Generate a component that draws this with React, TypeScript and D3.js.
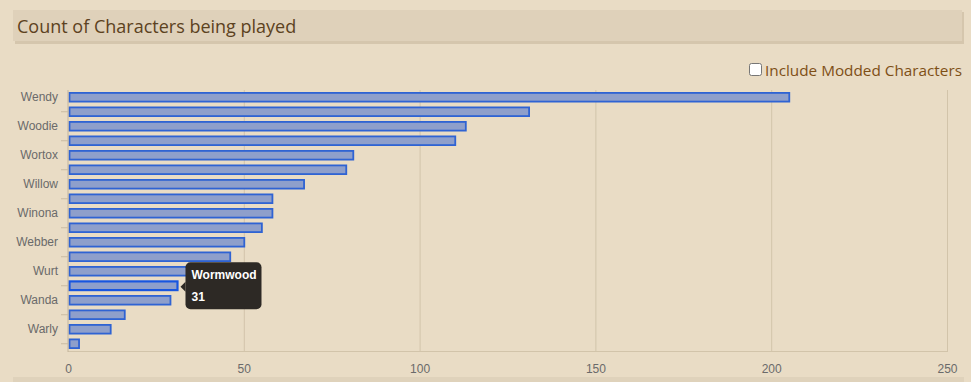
import React from "react";
import * as d3 from "d3";

const characters = [
  "Wendy", "Wilson", "Woodie", "Wickerbottom", "Wortox", "Wigfrid",
  "Willow", "Maxwell", "Winona", "WX-78", "Webber", "Wolfgang",
  "Wurt", "Wormwood", "Wanda", "Walter", "Warly", "Wes",
];
const counts = [205, 131, 113, 110, 81, 79, 67, 58, 58, 55, 50, 46, 36, 31, 29, 16, 12, 3];
const xTicks = [0, 50, 100, 150, 200, 250];
const title = "Count of Characters being played";
const checkboxLabel = "Include Modded Characters";
const highlighted = "Wormwood";

const W = 971;
const H = 382;
const BG = "#e9dcc5";

export default function App() {
  const x = d3.scaleLinear().domain([0, 250]).range([68.5, 947.5]);
  const y = d3.scaleBand<string>().domain(characters).range([90, 351]).paddingInner(0).paddingOuter(0);
  const bh = y.bandwidth() * 0.6;
  const axisFont = "'Liberation Sans', Arial, sans-serif";
  const hi = characters.indexOf(highlighted);
  const hiY = (y(highlighted) ?? 0) + y.bandwidth() / 2;
  const hiX = x(counts[hi]);

  return (
    <svg
      width={W}
      height={H}
      style={{ position: "absolute", left: 0, top: 0, display: "block" }}
    >
      <rect x={0} y={0} width={W} height={H} fill={BG} />
      {/* header */}
      <rect x={15} y={12} width={949} height={32} fill="#d5c6ad" />
      <rect x={13} y={10} width={949} height={31} fill="#dfd1ba" />
      <text x={17} y={33} fontFamily="'Open Sans', sans-serif" fontSize={18} fill="#5c4221">
        {title}
      </text>
      {/* checkbox */}
      <rect x={749.5} y={63.5} width={12} height={12} rx={2} fill="#ffffff" stroke="#767676" strokeWidth={1} />
      <text x={765} y={76} fontFamily="'Open Sans', sans-serif" fontSize={15.3} fill="#7e4f16">
        {checkboxLabel}
      </text>
      {/* gridlines */}
      {xTicks.slice(1).map((t) => (
        <line key={t} x1={x(t)} x2={x(t)} y1={90} y2={351} stroke="#d2c4aa" strokeWidth={1} />
      ))}
      {/* x axis baseline */}
      <line x1={68} x2={948} y1={351.5} y2={351.5} stroke="#d2c4aa" strokeWidth={1} />
      {/* bars */}
      {characters.map((c, i) => {
        const yc = (y(c) ?? 0) + y.bandwidth() / 2;
        const isHi = c === highlighted;
        return (
          <rect
            key={c}
            x={x(0) + 1}
            y={yc - bh / 2}
            width={Math.max(0, x(counts[i]) - x(0) - 1)}
            height={bh}
            fill="#8e9fcb"
            stroke={isHi ? "#1856e0" : "#2f63d3"}
            strokeWidth={isHi ? 2.2 : 1.8}
          />
        );
      })}
      {/* y axis line */}
      <line x1={68} x2={68} y1={90} y2={352} stroke="#c4b59b" strokeWidth={1} />
      {/* y labels & minor ticks */}
      {characters.map((c, i) => {
        const yc = (y(c) ?? 0) + y.bandwidth() / 2;
        return i % 2 === 0 ? (
          <text
            key={c}
            x={58}
            y={yc + 4}
            textAnchor="end"
            fontFamily={axisFont}
            fontSize={12}
            fill="#6a6a6a"
          >
            {c}
          </text>
        ) : (
          <line key={c} x1={61} x2={68} y1={yc} y2={yc} stroke="#c9bba2" strokeWidth={1} />
        );
      })}
      {/* x labels */}
      {xTicks.map((t) => (
        <text
          key={t}
          x={x(t)}
          y={373}
          textAnchor="middle"
          fontFamily={axisFont}
          fontSize={12}
          fill="#6a6a6a"
        >
          {t}
        </text>
      ))}
      {/* bottom band */}
      <rect x={13} y={377} width={951} height={5} fill="#dfd2bb" />
      {/* tooltip */}
      <g>
        <path
          d={`M${hiX + 3},${hiY + 1} L${hiX + 8},${hiY - 4} L${hiX + 8},${hiY + 6} Z`}
          fill="#2d2925"
        />
        <rect x={hiX + 8} y={hiY - 23.5} width={76} height={47} rx={5} fill="#2d2925" />
        <text x={hiX + 14} y={hiY - 6.5} fontFamily={axisFont} fontSize={12} fontWeight="bold" fill="#ffffff">
          {highlighted}
        </text>
        <text x={hiX + 14} y={hiY + 15} fontFamily={axisFont} fontSize={12} fontWeight="bold" fill="#ffffff">
          {counts[hi]}
        </text>
      </g>
    </svg>
  );
}
